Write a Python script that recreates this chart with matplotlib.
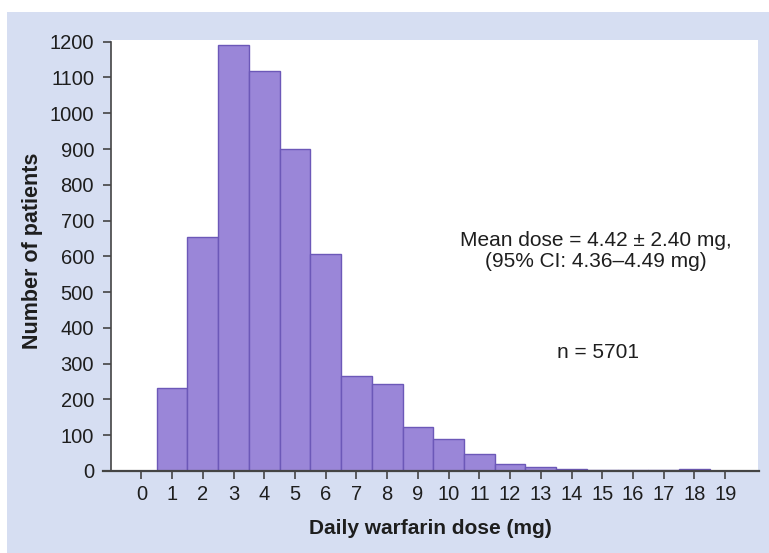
import matplotlib.pyplot as plt
from matplotlib.patches import Rectangle
import numpy as np

# Daily warfarin dose histogram (bins of 1 mg)
doses = np.arange(0, 20)
patients = [0, 233, 653, 1191, 1117, 900, 607, 266, 244, 122,
            90, 48, 19, 12, 6, 4, 3, 2, 5, 0]
mean_text = 'Mean dose = 4.42 \u00b1 2.40 mg,\n(95% CI: 4.36\u20134.49 mg)'
n_text = 'n = 5701'

BG = '#d6def2'
BAR = '#9a86d8'
EDGE = '#6c58b8'
INK = '#1e1e1e'

plt.rcParams['font.family'] = ['Liberation Sans', 'DejaVu Sans']

fig = plt.figure(figsize=(7.69, 5.53), dpi=100, facecolor=BG)
# thin white frame at top and left of the picture
fig.patches.append(Rectangle((0, 1 - 12 / 553), 1, 12 / 553, transform=fig.transFigure,
                             facecolor='white', edgecolor='none', zorder=-1))
fig.patches.append(Rectangle((0, 0), 7 / 769, 1, transform=fig.transFigure,
                             facecolor='white', edgecolor='none', zorder=-1))

ax = fig.add_axes([103 / 769, 82 / 553, 656 / 769, (471 - 41.7) / 553])
ax.set_facecolor(BG)
ax.add_patch(Rectangle((-1, 0), 21.07, 1205, facecolor='white', edgecolor='none',
                       zorder=0, clip_on=False))

ax.bar(doses, patients, width=1.0, color=BAR, edgecolor=EDGE, linewidth=1.0, zorder=2)

ax.set_xlim(-1.25, 20.1)
ax.set_ylim(0, 1200)
ax.set_xticks(doses)
ax.set_yticks(np.arange(0, 1201, 100))

for s in ['top', 'right']:
    ax.spines[s].set_visible(False)
ax.spines['left'].set_position(('data', -1))
ax.spines['left'].set_color('#444444')
ax.spines['left'].set_linewidth(1.2)
ax.spines['bottom'].set_color('#444444')
ax.spines['bottom'].set_linewidth(1.6)
ax.spines['bottom'].set_zorder(3)

ax.tick_params(axis='both', direction='out', length=6, width=1.2, color='#444444',
               labelsize=14.5, labelcolor=INK)
ax.tick_params(axis='x', pad=4)
ax.tick_params(axis='y', pad=6)

ax.set_xlabel('Daily warfarin dose (mg)', fontsize=15, fontweight='bold', color=INK)
ax.set_ylabel('Number of patients', fontsize=15.5, fontweight='bold', color=INK)
ax.xaxis.set_label_coords((430 - 103) / 656, -(528 - 471) / (471 - 41.7))
ax.yaxis.set_label_coords(-(103 - 33) / 656, (471 - 251) / (471 - 41.7))
ax.xaxis.label.set_va('center')
ax.yaxis.label.set_va('center')

ax.text(14.8, 615, mean_text, ha='center', va='center', fontsize=15, color=INK,
        linespacing=1.1, zorder=4)
ax.text(14.87, 332, n_text, ha='center', va='center', fontsize=15, color=INK, zorder=4)

fig.savefig('out.png', dpi=100, facecolor=BG)
